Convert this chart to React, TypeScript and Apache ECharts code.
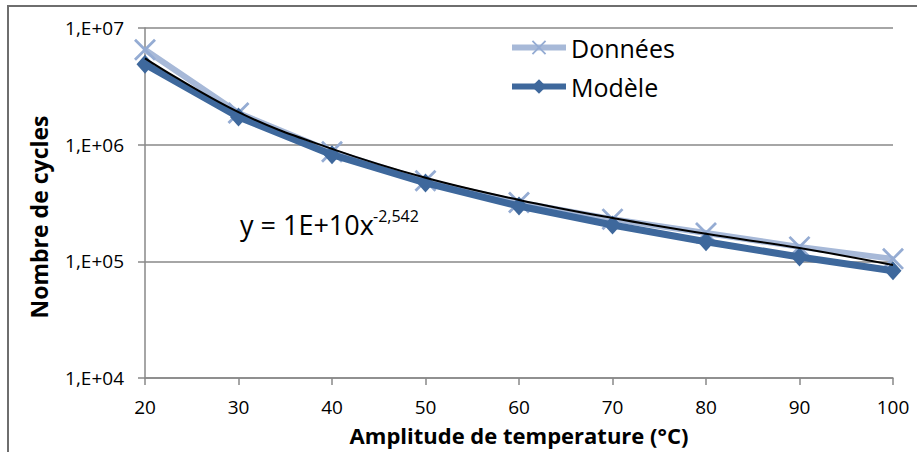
import React, { useEffect, useRef } from "react";
import * as echarts from "echarts";

const temperatures = [20, 30, 40, 50, 60, 70, 80, 90, 100];
const donnees = [6.5e6, 1.87e6, 8.7e5, 4.9e5, 3.2e5, 2.3e5, 1.75e5, 1.33e5, 1.05e5];
const modele = [4.9e6, 1.73e6, 8.2e5, 4.7e5, 2.98e5, 2.05e5, 1.47e5, 1.09e5, 8.3e4];
const tendance = [5.5e6, 1.9e6, 9.2e5, 5.2e5, 3.36e5, 2.35e5, 1.72e5, 1.3e5, 9.3e4];
const yTickLabels: Record<string, string> = {
  "10000": "1,E+04",
  "100000": "1,E+05",
  "1000000": "1,E+06",
  "10000000": "1,E+07",
};
const seriesNames = ["Données", "Modèle"];
const equation = "y = 1E+10x";
const exponent = "-2,542";

const FONT = "'Open Sans', 'Noto Sans', sans-serif";
const CROSS =
  "path://M0,0.9 L0.9,0 L5,4.1 L9.1,0 L10,0.9 L5.9,5 L10,9.1 L9.1,10 L5,5.9 L0.9,10 L0,9.1 L4.1,5 Z";

export default function App() {
  const ref = useRef<HTMLDivElement>(null);
  useEffect(() => {
    if (!ref.current) return;
    const chart = echarts.init(ref.current, null, { renderer: "svg" });
    chart.setOption({
      animation: false,
      backgroundColor: "#ffffff",
      textStyle: { fontFamily: FONT },
      grid: { left: 145, right: 24, top: 28, bottom: 74 },
      legend: {
        orient: "vertical",
        left: 509,
        top: 35,
        padding: 0,
        itemWidth: 54,
        itemHeight: 18,
        itemGap: 14,
        textStyle: { fontSize: 25, color: "#000", fontFamily: FONT },
        data: [
          { name: seriesNames[0], lineStyle: { width: 6, color: "#A7B9D8" } },
          { name: seriesNames[1], lineStyle: { width: 6, color: "#3E689C" } },
        ],
      },
      xAxis: {
        type: "value",
        min: 20,
        max: 100,
        interval: 10,
        name: "Amplitude de temperature (°C)",
        nameLocation: "middle",
        nameGap: 46,
        nameTextStyle: { fontSize: 22, fontWeight: "bold", color: "#000", fontFamily: FONT },
        axisLine: { show: true, lineStyle: { color: "#888888", width: 1.5 } },
        axisTick: { show: true, length: 7, lineStyle: { color: "#888888", width: 1.5 } },
        axisLabel: { fontSize: 19, color: "#000", margin: 19, fontFamily: FONT },
        splitLine: { show: false },
      },
      yAxis: {
        type: "log",
        logBase: 10,
        min: 1e4,
        max: 1e7,
        name: "Nombre de cycles",
        nameLocation: "middle",
        nameGap: 95,
        nameRotate: 90,
        nameTextStyle: {
          fontSize: 23,
          fontWeight: "bold",
          color: "#000",
          fontFamily: FONT,
          padding: [0, 28, 0, 0],
        },
        axisLine: { show: true, lineStyle: { color: "#888888", width: 1.5 } },
        axisTick: { show: true, length: 7, lineStyle: { color: "#888888", width: 1.5 } },
        axisLabel: {
          fontSize: 19,
          color: "#000",
          margin: 21,
          fontFamily: FONT,
          formatter: (v: number) => yTickLabels[String(Math.round(v))] ?? "",
        },
        splitLine: { show: true, lineStyle: { color: "#888888", width: 1.5 } },
      },
      series: [
        {
          name: seriesNames[0],
          type: "line",
          data: temperatures.map((t, i) => [t, donnees[i]]),
          symbol: CROSS,
          symbolSize: 22,
          lineStyle: { color: "#A7B9D8", width: 6 },
          itemStyle: { color: "#95ACD3" },
          z: 2,
        },
        {
          name: seriesNames[1],
          type: "line",
          data: temperatures.map((t, i) => [t, modele[i]]),
          symbol: "diamond",
          symbolSize: [17, 19],
          lineStyle: { color: "#3E689C", width: 7 },
          itemStyle: { color: "#3E689C" },
          z: 3,
        },
        {
          name: "Tendance",
          type: "line",
          data: temperatures.map((t, i) => [t, tendance[i]]),
          symbol: "none",
          smooth: 0.4,
          lineStyle: { color: "#000000", width: 2 },
          z: 4,
          silent: true,
        },
      ],
      graphic: [
        {
          type: "rect",
          shape: { x: 8, y: 6, width: 1200, height: 1200 },
          style: { fill: "none", stroke: "#6E6E6E", lineWidth: 2 },
          silent: true,
        },
        {
          type: "text",
          left: 240,
          top: 211,
          style: { text: equation, fontSize: 27, fill: "#000", fontFamily: FONT },
        },
        {
          type: "text",
          left: 373,
          top: 208,
          style: { text: exponent, fontSize: 16, fill: "#000", fontFamily: FONT },
        },
      ],
    });
    return () => chart.dispose();
  }, []);
  return (
    <div
      ref={ref}
      style={{ position: "fixed", left: 0, top: 0, width: 917, height: 452 }}
    />
  );
}
